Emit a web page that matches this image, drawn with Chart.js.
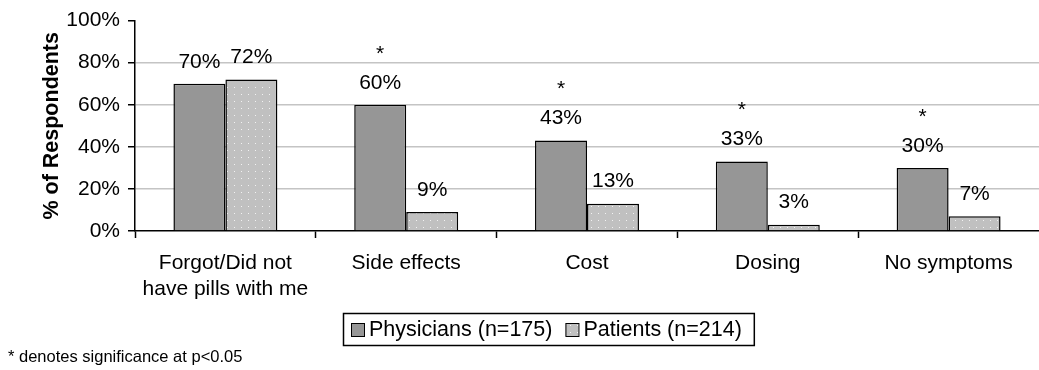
<!DOCTYPE html>
<html>
<head>
<meta charset="utf-8">
<script src="https://cdn.jsdelivr.net/npm/chart.js@4/dist/chart.umd.min.js"></script>
<style>
  html, body { margin: 0; padding: 0; background: #fff; }
  #wrap { position: relative; width: 1039px; height: 370px; }
</style>
</head>
<body>
<div id="wrap"><canvas id="c" width="1039" height="370"></canvas></div>
<script>
// ---- data ----
const categories = [["Forgot/Did not", "have pills with me"], "Side effects", "Cost", "Dosing", "No symptoms"];
const physicians = [70, 60, 43, 33, 30];
const patients = [72, 9, 13, 3, 7];
const significant = [false, true, true, true, true];
const seriesNames = ["Physicians (n=175)", "Patients (n=214)"];
const yTickValues = [0, 20, 40, 60, 80, 100];
const footnote = "* denotes significance at p<0.05";
const yTitle = "% of Respondents";

const FONT = "'Liberation Sans', Arial, Helvetica, sans-serif";

// dotted pattern for patients
function makePattern() {
  const p = document.createElement('canvas');
  p.width = 7; p.height = 7;
  const g = p.getContext('2d');
  g.fillStyle = '#c0c0c0';
  g.fillRect(0, 0, 7, 7);
  g.fillStyle = '#f2f2f2';
  g.fillRect(3, 3, 1, 1);
  return document.getElementById('c').getContext('2d').createPattern(p, 'repeat');
}
const patientFill = makePattern();
const physFill = '#969696';

const labelPlugin = {
  id: 'labels',
  afterDatasetsDraw(chart) {
    const ctx = chart.ctx;
    ctx.save();
    ctx.fillStyle = '#000';
    ctx.textAlign = 'center';
    ctx.textBaseline = 'middle';
    chart.data.datasets.forEach((ds, di) => {
      const meta = chart.getDatasetMeta(di);
      meta.data.forEach((bar, i) => {
        ctx.font = '21px ' + FONT;
        const ly = bar.y - 22;
        ctx.fillText(ds.data[i] + '%', bar.x, ly);
        if (di === 0 && significant[i]) {
          ctx.fillText('*', bar.x, ly - 29);
        }
      });
    });
    ctx.restore();
  },
  afterDraw(chart) {
    const ctx = chart.ctx;
    ctx.save();
    // legend
    ctx.font = '21.5px ' + FONT;
    const boxLeft = 343, boxTop = 313, boxH = 32;
    let x = boxLeft + 8;
    const items = [];
    chart.data.datasets.forEach((ds) => {
      const sw = x;
      const tx = sw + 18;
      const w = ctx.measureText(ds.label).width;
      items.push({ sw, tx, ds });
      x = tx + w + 13;
    });
    const boxRight = x - 13 + 12;
    ctx.fillStyle = '#fff';
    ctx.fillRect(boxLeft, boxTop, boxRight - boxLeft, boxH);
    ctx.strokeStyle = '#000';
    ctx.lineWidth = 1.5;
    ctx.strokeRect(boxLeft + 0.5, boxTop + 0.5, boxRight - boxLeft, boxH);
    items.forEach(it => {
      ctx.fillStyle = it.ds.backgroundColor;
      ctx.fillRect(it.sw, boxTop + 10, 13, 13);
      ctx.lineWidth = 1;
      ctx.strokeStyle = '#000';
      ctx.strokeRect(it.sw + 0.5, boxTop + 10.5, 13, 13);
      ctx.fillStyle = '#000';
      ctx.textAlign = 'left';
      ctx.textBaseline = 'middle';
      ctx.fillText(it.ds.label, it.tx, boxTop + 17);
    });
    // footnote
    ctx.font = '16.5px ' + FONT;
    ctx.fillStyle = '#000';
    ctx.textAlign = 'left';
    ctx.textBaseline = 'middle';
    ctx.fillText(footnote, 8, 357);
    ctx.restore();
  }
};

new Chart(document.getElementById('c'), {
  type: 'bar',
  data: {
    labels: categories,
    datasets: [
      { label: seriesNames[0], data: physicians, backgroundColor: physFill, borderColor: '#000', borderWidth: 1.5, categoryPercentage: 0.575, barPercentage: 1.0 },
      { label: seriesNames[1], data: patients, backgroundColor: patientFill, borderColor: '#000', borderWidth: 1.5, categoryPercentage: 0.575, barPercentage: 1.0 }
    ]
  },
  options: {
    responsive: false,
    animation: false,
    devicePixelRatio: 1,
    layout: { padding: { top: 17, right: 0, bottom: 0, left: 0 } },
    plugins: { legend: { display: false }, tooltip: { enabled: false } },
    scales: {
      x: {
        afterFit(s) { s.height = 139; },
        grid: { offset: true, drawOnChartArea: false, drawTicks: true, tickLength: 7,
                tickColor: (c) => c.tick ? '#000' : 'rgba(0,0,0,0)', tickWidth: 1.5 },
        border: { display: true, color: '#000', width: 1.5 },
        ticks: { color: '#000', font: { family: FONT, size: 21, lineHeight: 1.25 }, padding: 12, maxRotation: 0, autoSkip: false }
      },
      y: {
        min: 0, max: 100,
        afterFit(s) { s.width = 135; },
        afterBuildTicks(s) { s.ticks = yTickValues.map(v => ({ value: v })); },
        grid: {
          color: (c) => (c.tick && (c.tick.value === 0 || c.tick.value === 100)) ? 'rgba(0,0,0,0)' : '#c4c4c4',
          lineWidth: 1.5,
          drawTicks: true, tickLength: 7, tickColor: '#000', tickWidth: 1.5
        },
        border: { display: true, color: '#000', width: 1.5 },
        ticks: { color: '#000', font: { family: FONT, size: 21 }, padding: 8, callback: v => v + '%' },
        title: { display: true, text: yTitle, color: '#000', font: { family: FONT, size: 21.5, weight: 'bold' }, padding: { top: 39, bottom: 0 } }
      }
    }
  },
  plugins: [labelPlugin]
});
</script>
</body>
</html>
